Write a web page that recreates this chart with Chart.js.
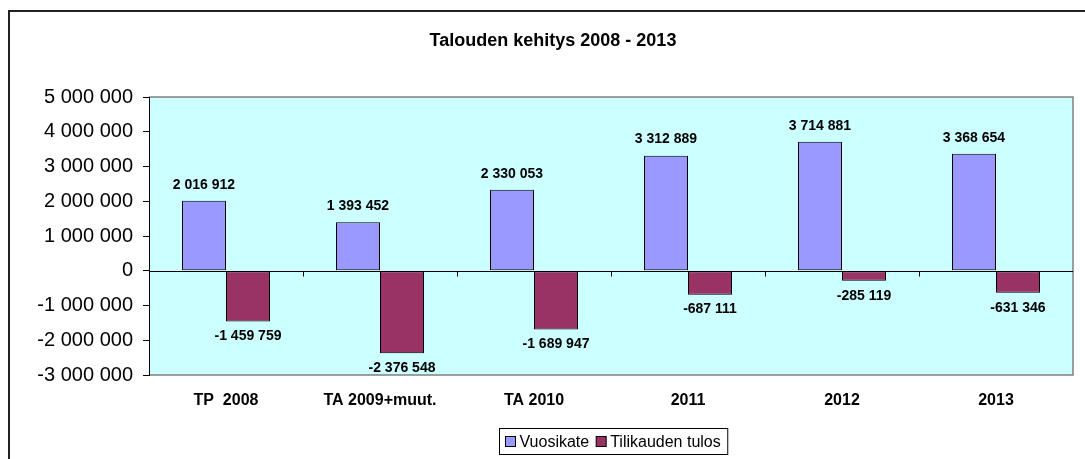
<!DOCTYPE html>
<html>
<head>
<meta charset="utf-8">
<script src="https://cdn.jsdelivr.net/npm/chart.js@4/dist/chart.umd.min.js"></script>
<style>
  body { margin: 0; background: #fff; }
  canvas { display: block; }
</style>
</head>
<body>
<canvas id="talous" width="1085" height="459"></canvas>
<script>
const categories = ['TP  2008', 'TA 2009+muut.', 'TA 2010', '2011', '2012', '2013'];
const vuosikate = [2016912, 1393452, 2330053, 3312889, 3714881, 3368654];
const tilikaudenTulos = [-1459759, -2376548, -1689947, -687111, -285119, -631346];
const seriesNames = ['Vuosikate', 'Tilikauden tulos'];
const chartTitle = 'Talouden kehitys 2008 - 2013';

const FONT = "Arial, 'Liberation Sans', sans-serif";

function fmt(v) {
  return String(Math.round(v)).replace(/\B(?=(\d{3})+(?!\d))/g, ' ');
}

// background, outer frame, plot area, zero line, title, legend
const excelLook = {
  id: 'excelLook',
  beforeDraw(chart) {
    const c = chart.ctx, a = chart.chartArea;
    c.save();
    c.fillStyle = '#fff';
    c.fillRect(0, 0, chart.width, chart.height);
    c.strokeStyle = '#222';
    c.lineWidth = 2;
    c.beginPath();
    c.moveTo(9, chart.height);
    c.lineTo(9, 11);
    c.lineTo(chart.width, 11);
    c.stroke();
    c.fillStyle = '#CCFFFF';
    c.fillRect(a.left, a.top, a.right - a.left, a.bottom - a.top);
    c.strokeStyle = '#808080';
    c.lineWidth = 1.5;
    c.beginPath();
    c.moveTo(a.left, a.top);
    c.lineTo(a.right, a.top);
    c.lineTo(a.right, a.bottom);
    c.lineTo(a.left, a.bottom);
    c.stroke();
    c.restore();
  },
  afterDatasetsDraw(chart) {
    const c = chart.ctx, a = chart.chartArea;
    const y0 = Math.round(chart.scales.y.getPixelForValue(0)) + 0.5;
    c.save();
    c.strokeStyle = '#000';
    c.lineWidth = 1;
    c.beginPath();
    c.moveTo(a.left, y0);
    c.lineTo(a.right, y0);
    for (let i = 1; i < categories.length; i++) {
      const bx = Math.round(a.left + (a.right - a.left) * i / categories.length) + 0.5;
      c.moveTo(bx, y0);
      c.lineTo(bx, y0 + 5);
    }
    c.stroke();

    // data labels
    c.fillStyle = '#000';
    c.font = 'bold 14px ' + FONT;
    c.textAlign = 'center';
    c.textBaseline = 'middle';
    chart.data.datasets.forEach((ds, di) => {
      chart.getDatasetMeta(di).data.forEach((bar, i) => {
        const v = ds.data[i];
        const ty = v >= 0 ? bar.y - 16 : bar.y + 15;
        c.fillText(fmt(v), bar.x, ty);
      });
    });

    // title
    c.font = 'bold 18px ' + FONT;
    c.fillText(chartTitle, 553, 41);

    // legend
    c.font = '16px ' + FONT;
    c.textAlign = 'left';
    const sq = 10;
    let w = 6;
    const widths = seriesNames.map(n => c.measureText(n).width);
    widths.forEach(tw => { w += sq + 4 + tw + 7; });
    const bx = Math.round((a.left + a.right) / 2 - w / 2 + 2) + 0.5;
    const by = 428.5, bh = 26;
    c.strokeStyle = '#000';
    c.lineWidth = 1;
    c.strokeRect(bx, by, w, bh);
    let px = bx + 6;
    chart.data.datasets.forEach((ds, di) => {
      c.fillStyle = ds.backgroundColor;
      c.fillRect(px, by + 8, sq, sq);
      c.strokeRect(px, by + 8, sq, sq);
      c.fillStyle = '#000';
      c.fillText(seriesNames[di], px + sq + 4, by + bh / 2 + 1);
      px += sq + 4 + widths[di] + 7;
    });
    c.restore();
  }
};

new Chart(document.getElementById('talous'), {
  type: 'bar',
  plugins: [excelLook],
  data: {
    labels: categories,
    datasets: [
      { label: seriesNames[0], data: vuosikate, backgroundColor: '#9999FF', borderColor: '#000', borderWidth: 1, borderSkipped: false },
      { label: seriesNames[1], data: tilikaudenTulos, backgroundColor: '#993366', borderColor: '#000', borderWidth: 1, borderSkipped: false }
    ]
  },
  options: {
    responsive: false,
    animation: false,
    devicePixelRatio: 1,
    layout: { padding: { top: 97, right: 12, left: 0, bottom: 0 } },
    datasets: { bar: { categoryPercentage: 0.5714, barPercentage: 1 } },
    plugins: {
      legend: { display: false },
      title: { display: false },
      tooltip: { enabled: false }
    },
    scales: {
      x: {
        grid: { display: false },
        border: { display: false },
        ticks: { color: '#000', font: { family: FONT, size: 16, weight: 'bold' }, padding: 8, maxRotation: 0 },
        afterFit(s) { s.height = 84; }
      },
      y: {
        min: -3000000,
        max: 5000000,
        grid: { drawOnChartArea: false, drawTicks: true, tickLength: 6, color: '#000' },
        border: { display: true, color: '#000', width: 1 },
        ticks: {
          stepSize: 1000000,
          color: '#000',
          padding: 10,
          font: { family: FONT, size: 20 },
          callback: v => fmt(v)
        },
        afterFit(s) { s.width = 149; }
      }
    }
  }
});
</script>
</body>
</html>
